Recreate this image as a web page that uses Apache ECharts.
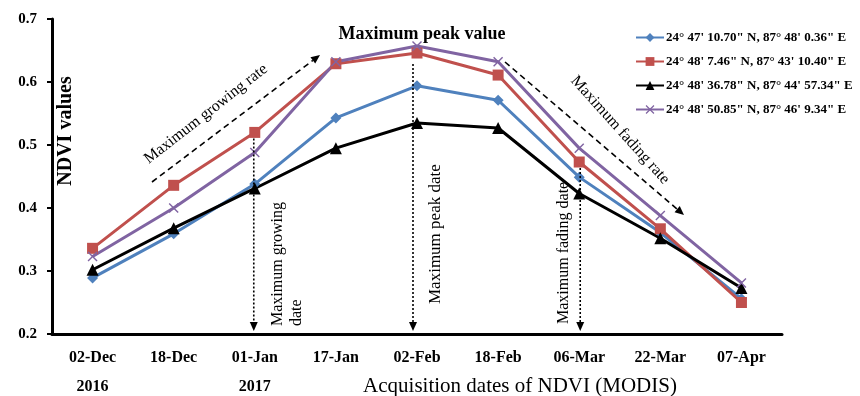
<!DOCTYPE html>
<html>
<head>
<meta charset="utf-8">
<script src="https://cdn.jsdelivr.net/npm/echarts@6/dist/echarts.min.js"></script>
<style>
  html, body { margin: 0; padding: 0; background: #fff; }
  #chart { width: 860px; height: 396px; }
</style>
</head>
<body>
<div id="chart"></div>
<script>
  // acquisition dates (MODIS 16-day composites)
  var dates = ['02-Dec', '18-Dec', '01-Jan', '17-Jan', '02-Feb', '18-Feb', '06-Mar', '22-Mar', '07-Apr'];
  var siteNames = [
    '24° 47\' 10.70" N, 87° 48\' 0.36" E',
    '24° 48\' 7.46" N, 87° 43\' 10.40" E',
    '24° 48\' 36.78" N, 87° 44\' 57.34" E',
    '24° 48\' 50.85" N, 87° 46\' 9.34" E'
  ];
  var site1 = [0.289, 0.359, 0.438, 0.543, 0.594, 0.571, 0.449, 0.361, 0.256];
  var site2 = [0.336, 0.436, 0.520, 0.629, 0.646, 0.611, 0.473, 0.367, 0.250];
  var site3 = [0.302, 0.368, 0.431, 0.495, 0.535, 0.527, 0.423, 0.352, 0.273];
  var site4 = [0.323, 0.400, 0.488, 0.632, 0.657, 0.632, 0.495, 0.388, 0.281];
  var yTicks = [0.2, 0.3, 0.4, 0.5, 0.6, 0.7];

  var FONT = '"Liberation Serif", "Times New Roman", serif';
  var xMark = 'path://M0,1 L1,0 L5,4 L9,0 L10,1 L6,5 L10,9 L9,10 L5,6 L1,10 L0,9 L4,5 Z';

  var chart = echarts.init(document.getElementById('chart'));

  function line(name, data, color, symbol, size) {
    return {
      name: name,
      type: 'line',
      data: data,
      symbol: symbol,
      symbolSize: size,
      showSymbol: true,
      lineStyle: { color: color, width: 3 },
      itemStyle: { color: color, borderWidth: 0 },
      emphasis: { disabled: true },
      z: 3
    };
  }

  chart.setOption({
    animation: false,
    textStyle: { fontFamily: FONT, color: '#000' },
    grid: { left: 52, right: 78, top: 19, bottom: 62 },
    legend: {
      orient: 'vertical',
      left: 630,
      top: 26,
      itemWidth: 28,
      itemHeight: 11,
      itemGap: 11,
      data: siteNames,
      textStyle: { fontFamily: FONT, fontSize: 13, fontWeight: 'bold', color: '#000', padding: [0, 0, 0, -3] }
    },
    xAxis: {
      type: 'category',
      data: dates,
      boundaryGap: true,
      axisLine: { lineStyle: { color: '#000', width: 3 } },
      axisTick: { inside: true, length: 6, lineStyle: { color: '#000', width: 2 } },
      axisLabel: { margin: 16, fontFamily: FONT, fontSize: 16, fontWeight: 'bold', color: '#000' },
      splitLine: { show: false }
    },
    yAxis: {
      type: 'value',
      min: yTicks[0],
      max: yTicks[yTicks.length - 1],
      interval: 0.1,
      axisLine: { show: true, lineStyle: { color: '#000', width: 3 } },
      axisTick: { show: true, length: 5, lineStyle: { color: '#000', width: 2 } },
      axisLabel: {
        margin: 15, fontFamily: FONT, fontSize: 15, fontWeight: 'bold', color: '#000',
        formatter: function (v) { return v.toFixed(1); }
      },
      splitLine: { show: false }
    },
    series: [
      line(siteNames[0], site1, '#4F81BD', 'diamond', 11),
      line(siteNames[1], site2, '#C0504D', 'rect', 11),
      line(siteNames[2], site3, '#000000', 'triangle', 12),
      line(siteNames[3], site4, '#8064A2', xMark, 10)
    ]
  });

  function px(cat, val) {
    return chart.convertToPixel({ xAxisIndex: 0, yAxisIndex: 0 }, [cat, val]);
  }

  function arrow(x1, y1, x2, y2, dash) {
    var ang = Math.atan2(y2 - y1, x2 - x1);
    var L = 9, W = 4;
    var bx = x2 - L * Math.cos(ang), by = y2 - L * Math.sin(ang);
    var nx = -Math.sin(ang) * W, ny = Math.cos(ang) * W;
    return [
      { type: 'line', shape: { x1: x1, y1: y1, x2: bx, y2: by },
        style: { stroke: '#000', lineWidth: 1.6, lineDash: dash }, z: 10 },
      { type: 'polygon', shape: { points: [[x2, y2], [bx + nx, by + ny], [bx - nx, by - ny]] },
        style: { fill: '#000' }, z: 10 }
    ];
  }

  function label(text, x, y, rotDeg, opts) {
    opts = opts || {};
    return {
      type: 'text', x: x, y: y, rotation: rotDeg * Math.PI / 180, z: 11,
      style: {
        text: text, fill: '#000',
        font: (opts.weight || 'normal') + ' ' + (opts.size || 16) + 'px ' + FONT,
        align: opts.align || 'center', verticalAlign: opts.valign || 'middle',
        lineHeight: opts.lineHeight
      }
    };
  }

  var axisY = px(dates[0], yTicks[0])[1];
  var g = [];
  // vertical dotted markers for growing, peak and fading dates
  var pGrow = px('01-Jan', site2[2]);
  var pPeak = px('02-Feb', site4[4]);
  var pFade = px('06-Mar', site2[6]);
  g = g.concat(arrow(pGrow[0] - 1, pGrow[1] + 6, pGrow[0] - 1, axisY - 3, [2, 2]));
  g = g.concat(arrow(pPeak[0] - 4, pPeak[1] + 18, pPeak[0] - 4, axisY - 3, [2, 2]));
  g = g.concat(arrow(pFade[0] + 1, pFade[1] + 6, pFade[0] + 1, axisY - 3, [2, 2]));
  // rate arrows
  g = g.concat(arrow(152, 182, 320, 55, [6, 4]));
  g = g.concat(arrow(505, 62, 684, 215, [6, 4]));

  g.push(label('Maximum growing rate', 206, 114, 38, { size: 16 }));
  g.push(label('Maximum fading rate', 620, 130, -48, { size: 16 }));
  g.push(label('Maximum peak value', 422, 34, 0, { size: 18, weight: 'bold' }));
  g.push(label('Maximum growing\ndate', pGrow[0] + 14, 326, 90, { size: 16, align: 'left', valign: 'top', lineHeight: 19 }));
  g.push(label('Maximum peak date', pPeak[0] + 19, 304, 90, { size: 17, align: 'left' }));
  g.push(label('Maximum fading date', pFade[0] - 15, 324, 90, { size: 16, align: 'left' }));

  g.push(label('NDVI values', 66, 131, 90, { size: 20, weight: 'bold' }));
  g.push(label('2016', px(dates[0], yTicks[0])[0], 387, 0, { size: 16, weight: 'bold' }));
  g.push(label('2017', px(dates[2], yTicks[0])[0], 387, 0, { size: 16, weight: 'bold' }));
  g.push(label('Acquisition dates of NDVI (MODIS)', 520, 386, 0, { size: 21 }));

  chart.setOption({ graphic: g });
</script>
</body>
</html>
